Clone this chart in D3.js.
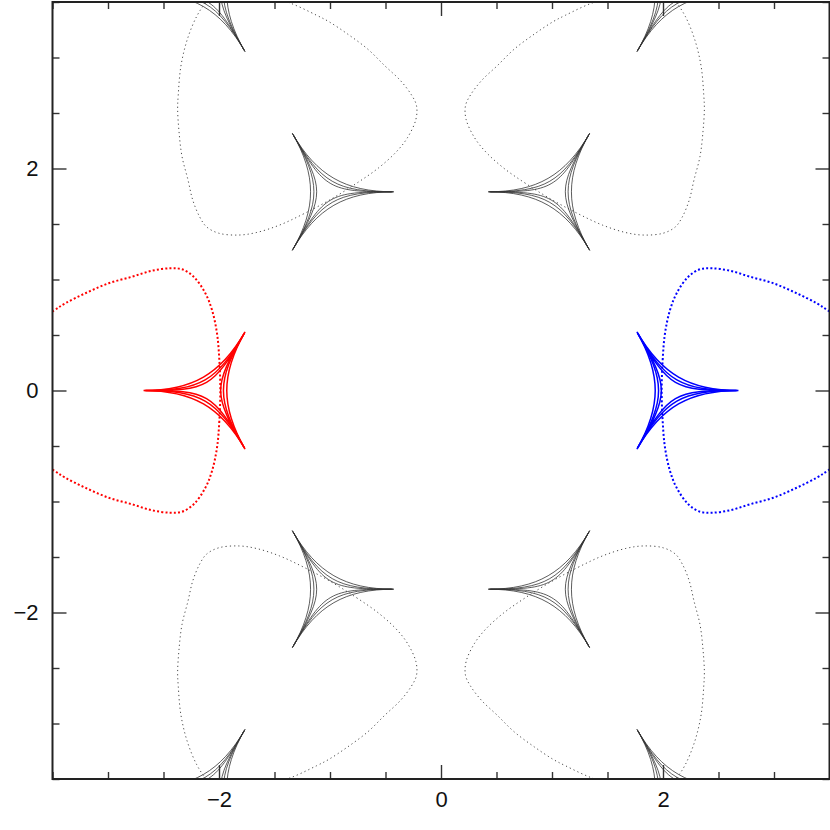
<!DOCTYPE html>
<html>
<head>
<meta charset="utf-8">
<script src="https://cdn.jsdelivr.net/npm/d3@7"></script>
<style>
  body { margin: 0; background: #fff; }
  text { font-family: "Liberation Sans", Arial, sans-serif; }
</style>
</head>
<body>
<script>
const w = 830;
const h = 830;

// axis ticks
const majorTicks = [-2, 0, 2];
const minorTicks = [-3.5, -3, -2.5, -1.5, -1, -0.5, 0.5, 1, 1.5, 2.5, 3, 3.5];

const criticalHalf = [
  [1.988, 0], [1.997, 0.275], [2.018, 0.515], [2.063, 0.725], [2.123, 0.876],
  [2.228, 1.025], [2.333, 1.092], [2.439, 1.101], [2.604, 1.079], [2.784, 1.025],
  [2.994, 0.966], [3.204, 0.876], [3.384, 0.786], [3.489, 0.719], [3.70, 0.57],
  [3.88, 0.40], [4.02, 0.22], [4.08, 0.10], [4.10, 0]
];
// the six copies of the critical curve, rotation in degrees
const criticalRot = [0, 60, 120, 180, 240, 300];

// caustics: centre and direction of the first cusp (degrees)
const causticX = [2.07, 1.035, -1.035, -2.07, -1.035, 1.035, 2.07, -2.07, -2.07, 2.07];
const causticY = [0, 1.79, 1.79, 0, -1.79, -1.79, 3.58, 3.58, -3.58, -3.58];
const causticRot = [0, 60, 120, 180, 240, 300, 240, 300, 60, 120];
// nested lines of one caustic: cusp distance and side depth
const cuspDist = [0.61, 0.60, 0.59];
const sideDepth = [0.14, 0.11, 0.085];

const svg = d3.select("body").append("svg")
  .attr("width", w)
  .attr("height", h);

const x = d3.scaleLinear().domain([-3.5, 3.5]).range([52.5, 829.5]);
const y = d3.scaleLinear().domain([-3.5, 3.5]).range([779, 2]);

svg.append("clipPath").attr("id", "clip")
  .append("rect")
  .attr("x", x(-3.5)).attr("y", y(3.5))
  .attr("width", x(3.5) - x(-3.5)).attr("height", y(-3.5) - y(3.5));

const plot = svg.append("g").attr("clip-path", "url(#clip)");

function colorFor(rot) {
  if (rot === 0) return "#0000ff";
  if (rot === 180) return "#ff0000";
  return null;
}

// critical curves (dotted)
const fullCurve = criticalHalf.concat(criticalHalf.slice(1, -1).reverse().map(p => [p[0], -p[1]]));
const line = d3.line().x(d => x(d[0])).y(d => y(d[1])).curve(d3.curveCatmullRomClosed);

criticalRot.forEach(function(rot) {
  const a = rot * Math.PI / 180;
  const pts = fullCurve.map(p => [
    p[0] * Math.cos(a) - p[1] * Math.sin(a),
    p[0] * Math.sin(a) + p[1] * Math.cos(a)
  ]);
  const c = colorFor(rot);
  plot.append("path")
    .attr("d", line(pts))
    .attr("fill", "none")
    .attr("stroke", c || "#4a4a4a")
    .attr("stroke-width", c ? 2 : 1)
    .attr("stroke-dasharray", c ? "2 2.2" : "1.2 3");
});

// caustics (solid, three nested lines each)
causticX.forEach(function(cx, i) {
  const cy = causticY[i];
  const rot = causticRot[i];
  const c = (i < 6) ? colorFor(rot) : null;
  cuspDist.forEach(function(R, j) {
    const k = 1 - (8 * sideDepth[j] / R - 1) / 3;
    const cusps = [0, 120, 240].map(function(t) {
      const a = (rot + t) * Math.PI / 180;
      return [cx + R * Math.cos(a), cy + R * Math.sin(a)];
    });
    const p = d3.path();
    p.moveTo(x(cusps[0][0]), y(cusps[0][1]));
    for (let s = 0; s < 3; s++) {
      const A = cusps[s], B = cusps[(s + 1) % 3];
      p.bezierCurveTo(
        x(A[0] + k * (cx - A[0])), y(A[1] + k * (cy - A[1])),
        x(B[0] + k * (cx - B[0])), y(B[1] + k * (cy - B[1])),
        x(B[0]), y(B[1]));
    }
    p.closePath();
    plot.append("path")
      .attr("d", p.toString())
      .attr("fill", "none")
      .attr("stroke", c || "#333")
      .attr("stroke-width", c ? 1.5 : 0.8);
  });
});

// axes: ticks on all four sides, pointing inward
function tickAxis(axis, tr, size, values, labels, pad) {
  const g = svg.append("g")
    .attr("transform", tr)
    .call(axis.tickValues(values).tickSize(size).tickPadding(pad || 3)
      .tickFormat(labels ? d3.format("d") : ""));
  g.select(".domain").remove();
  g.selectAll(".tick line").attr("stroke", "#333").attr("stroke-width", 1.4);
  g.selectAll("text").attr("fill", "#111").style("font-size", "22px");
  return g;
}

tickAxis(d3.axisBottom(x), "translate(0," + y(-3.5) + ")", -14, majorTicks, true, 12.5);
tickAxis(d3.axisBottom(x), "translate(0," + y(-3.5) + ")", -7, minorTicks, false);
tickAxis(d3.axisTop(x), "translate(0," + y(3.5) + ")", -14, majorTicks, false);
tickAxis(d3.axisTop(x), "translate(0," + y(3.5) + ")", -7, minorTicks, false);
tickAxis(d3.axisLeft(y), "translate(" + x(-3.5) + ",0)", -14, majorTicks, true, 14);
tickAxis(d3.axisLeft(y), "translate(" + x(-3.5) + ",0)", -7, minorTicks, false);
tickAxis(d3.axisRight(y), "translate(" + x(3.5) + ",0)", -14, majorTicks, false);
tickAxis(d3.axisRight(y), "translate(" + x(3.5) + ",0)", -7, minorTicks, false);

svg.append("rect")
  .attr("x", x(-3.5)).attr("y", y(3.5))
  .attr("width", x(3.5) - x(-3.5)).attr("height", y(-3.5) - y(3.5))
  .attr("fill", "none")
  .attr("stroke", "#222")
  .attr("stroke-width", 2);
</script>
</body>
</html>
